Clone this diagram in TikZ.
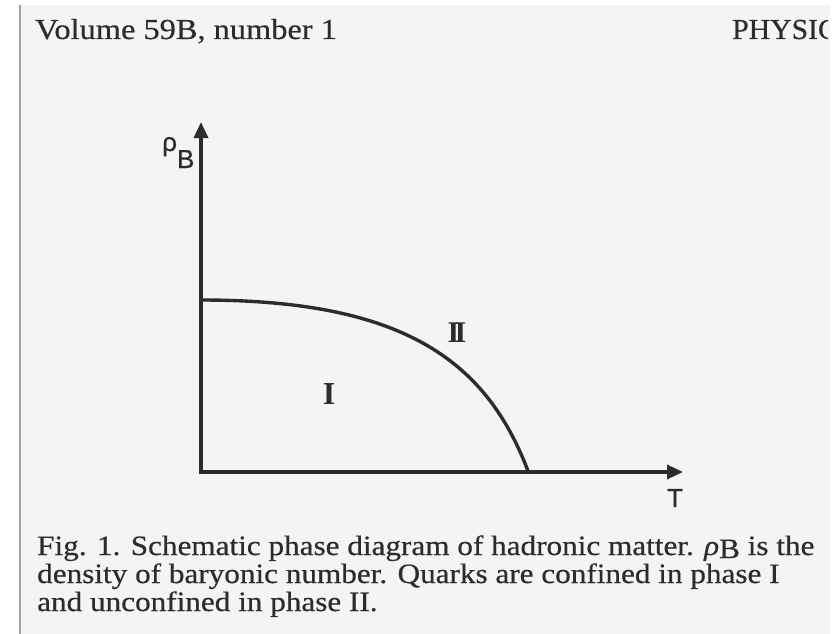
\documentclass[tikz,border=0pt]{standalone}
\usepackage{fontspec}
\setmainfont{Liberation Serif}
\setsansfont{Liberation Sans}
\newfontfamily\scan[FakeBold=0.5]{Liberation Serif}
\newfontfamily\scansans[FakeBold=0.8]{Liberation Sans}
\usetikzlibrary{arrows.meta}
\definecolor{ink}{HTML}{2C2C2C}
\definecolor{paper}{HTML}{F4F4F4}
\definecolor{edge}{HTML}{A0A0A0}
\newcommand{\hsq}[2]{\scalebox{#1}[1]{#2}}
\begin{document}
\begin{tikzpicture}[x=1pt,y=-1pt,
  axis/.style={draw=ink,line width=3.4pt,-{Triangle[length=16pt,width=14pt]}},
  curve/.style={draw=ink,line width=3.4pt,line cap=round},
  txt/.style={text=ink,inner sep=0pt,anchor=base west},
  roman/.style={text=ink,inner sep=0pt,font=\bfseries\fontsize{32}{34}\selectfont},
  lbl/.style={text=ink,inner sep=0pt,font=\scansans\fontsize{26}{28}\selectfont}]
\useasboundingbox (0,0) rectangle (840,634);
\fill[white] (0,0) rectangle (840,634);
\fill[paper] (20,5) rectangle (830,634);
\draw[edge,line width=2pt] (20,5) -- (20,634);
% header
\node[txt] (hdr) at (35,39) {\scan\fontsize{29}{32}\selectfont\hsq{1.117}{Volume 59B, number 1}};
\begin{scope}
\clip (0,0) rectangle (828,634);
\node[txt] (hdr2) at (732,39) {\scan\fontsize{29}{32}\selectfont\hsq{1.024}{PHYSIC}};
\end{scope}
% axes
\coordinate (O) at (201,472);
\coordinate (ytip) at (201,122);
\coordinate (xtip) at (683,472);
\draw[axis] (201,473.7) -- (ytip);
\draw[axis] (199.3,472) -- (xtip);
% phase boundary
\coordinate (c0) at (201,300);
\coordinate (c3) at (528,471);
\draw[curve] (c0) .. controls (401,300) and (485.4,358.8) .. (c3);
% labels
\node[lbl,anchor=base west] (rho) at (162,151) {ρ\raisebox{-17pt}{B}};
\node[lbl] (T) at (675,498) {T};
\node[roman] (one) at (329,394) {I};
\node[roman,font=\bfseries\fontsize{30}{32}\selectfont] (two) at (457,333) {I\kern-4.6pt I};
% caption
\node[txt] (c1) at (37,555) {\scan\fontsize{28}{30}\selectfont\hsq{1.114}{Fig. 1. Schematic phase diagram of hadronic matter. {\itshape ρ}\raisebox{-3pt}{B} is the}};
\node[txt] (c2) at (37,583) {\scan\fontsize{28}{30}\selectfont\hsq{1.114}{density of baryonic number. Quarks are confined in phase I}};
\node[txt] (c3t) at (37,611) {\scan\fontsize{28}{30}\selectfont\hsq{1.114}{and unconfined in phase II.}};
\end{tikzpicture}
\end{document}
